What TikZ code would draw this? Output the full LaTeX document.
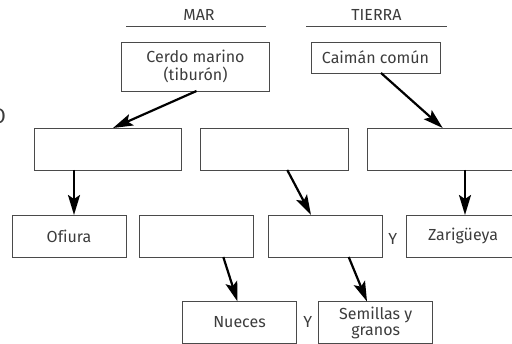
\documentclass[tikz,border=0pt]{standalone}
\usepackage{fontspec}
\setmainfont{Fira Sans}[Ligatures=NoCommon]
\usetikzlibrary{calc}
\usetikzlibrary{arrows.meta}
\definecolor{texto}{HTML}{3C3C3C}
\definecolor{borde}{HTML}{4A4A4A}

\begin{document}
\begin{tikzpicture}[x=1pt,y=-1pt,
                caja/.style={draw=borde,line width=0.9pt,inner sep=0pt,outer sep=0pt,
                    minimum width=114pt,minimum height=42pt,align=center,text=texto,
                    font=\fontsize{16}{16}\selectfont},
                ancha/.style={caja,minimum width=147.5pt},
                rotulo/.style={text=texto,font=\fontsize{16}{16}\selectfont},
                flecha/.style={line width=2.2pt,-{Stealth[length=20pt,width=12pt,inset=4pt]}}]
                \useasboundingbox (0,0) rectangle (512,344);
                \node[rotulo] (mar) at (199,15) {MAR};
                \node[rotulo] (tierra) at (376.5,15) {TIERRA};
                \draw[borde,line width=0.8pt] (126,26) coordinate (marA) -- (266,26) coordinate (marB);
                \draw[borde,line width=0.8pt] (306,26) coordinate (tieA) -- (447,26) coordinate (tieB);
                \node[rotulo,font=\fontsize{21}{22}\selectfont,anchor=east,inner sep=0pt] (corte) at (6,116) {O};

                \node[ancha,minimum height=49pt,font=\fontsize{16}{17.5}\selectfont] (cerdo) at (195.5,66.5) {Cerdo marino\\(tiburón)};
                \node[caja,minimum width=129pt,minimum height=31pt] (caiman) at (375.5,57.5) {Caimán común};

                \node[ancha] (filaA) at (108,149) {};
                \node[ancha] (filaB) at (274.25,149) {};
                \node[ancha] (filaC) at (441,149) {};

                \node[caja] (ofiura) at (69,236) {Ofiura};
                \node[caja] (vacioA) at (196.7,236) {};
                \node[caja] (vacioB) at (325,236) {};
                \node[rotulo] (yA) at (392.7,238.5) {Y};
                \node[caja] (zarig) at (463,236) {Zarigüeya};

                \node[caja] (nueces) at (239.5,322.5) {Nueces};
                \node[rotulo] (yB) at (307.7,322) {Y};
                \node[caja] (semillas) at (375.7,322.5) {Semillas y\\granos};

                \draw[flecha] ([xshift=1pt]cerdo.south) -- ([xshift=5pt]filaA.north);
                \draw[flecha] ([xshift=5.5pt]caiman.south) -- ([xshift=1.7pt]filaC.north);
                \draw[flecha] ([xshift=-34pt]filaA.south) -- ([xshift=5pt]ofiura.north);
                \draw[flecha] ([xshift=13pt]filaB.south) -- ([xshift=-14pt]vacioB.north);
                \draw[flecha] ([xshift=24pt]filaC.south) -- ([xshift=2pt]zarig.north);
                \draw[flecha] ([xshift=26.6pt]vacioA.south) -- ([xshift=-2pt]nueces.north);
                \draw[flecha] ([xshift=23.7pt]vacioB.south) -- ([xshift=-8.7pt]semillas.north);
            \end{tikzpicture}
\end{document}
